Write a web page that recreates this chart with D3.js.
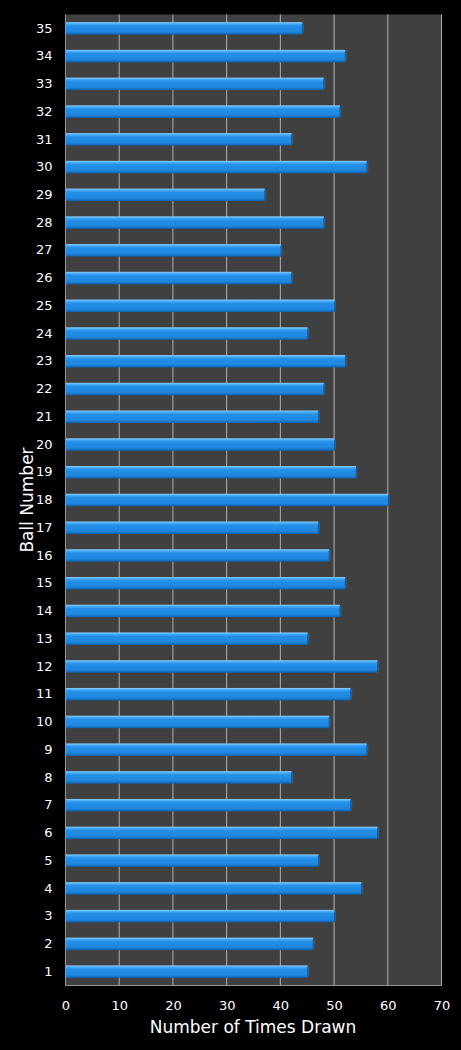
<!DOCTYPE html>
<html>
<head>
<meta charset="utf-8">
<script src="https://cdnjs.cloudflare.com/ajax/libs/d3/7.8.5/d3.min.js"></script>
<style>
  body { margin: 0; background: #000; }
  svg { display: block; }
</style>
</head>
<body>
<svg id="chart" width="461" height="1050"></svg>
<script>
// ball numbers (bottom to top) and how many times each was drawn
let balls = ["1","2","3","4","5","6","7","8","9","10","11","12","13","14","15","16","17","18",
             "19","20","21","22","23","24","25","26","27","28","29","30","31","32","33","34","35"];
let timesDrawn = [45,46,50,55,47,58,53,42,56,49,53,58,45,51,52,49,47,60,
                  54,50,47,48,52,45,50,42,40,48,37,56,42,51,48,52,44];
let xTicks = [0,10,20,30,40,50,60,70];

let chart = d3.select("#chart");
let plotLeft = 65.5, plotRight = 441.5, plotTop = 14.5, plotBottom = 985.5;

// x position scale
let x = d3.scaleLinear()
    .domain([0, 70])
    .range([plotLeft, plotRight]);

// y band scale, ball 35 at the top
let y = d3.scaleBand()
    .domain(balls.slice().reverse())
    .range([plotTop, plotBottom])
    .paddingInner(0.55)
    .paddingOuter(0.275);

// gradient for the bars
let defs = chart.append("defs");
let grad = defs.append("linearGradient")
    .attr("id", "barGrad")
    .attr("x1", 0).attr("y1", 0).attr("x2", 0).attr("y2", 1);
grad.append("stop").attr("offset", "0%").attr("stop-color", "#8ad0ff");
grad.append("stop").attr("offset", "15%").attr("stop-color", "#44a8f4");
grad.append("stop").attr("offset", "30%").attr("stop-color", "#2490e8");
grad.append("stop").attr("offset", "78%").attr("stop-color", "#1e86de");
grad.append("stop").attr("offset", "100%").attr("stop-color", "#1060aa");

// plot background
chart.append("rect")
    .attr("x", plotLeft)
    .attr("y", plotTop)
    .attr("width", plotRight - plotLeft)
    .attr("height", plotBottom - plotTop)
    .attr("fill", "#404040");

// vertical gridlines
chart.append("g")
    .selectAll("line")
    .data(xTicks.slice(1))
    .join("line")
    .attr("x1", d => x(d))
    .attr("x2", d => x(d))
    .attr("y1", plotTop)
    .attr("y2", plotBottom)
    .attr("stroke", "#b0b0b0")
    .attr("stroke-width", 1);

// axis lines
chart.append("line")
    .attr("x1", plotLeft).attr("x2", plotLeft)
    .attr("y1", plotTop).attr("y2", plotBottom)
    .attr("stroke", "#969696");
chart.append("line")
    .attr("x1", plotLeft).attr("x2", plotRight)
    .attr("y1", plotBottom).attr("y2", plotBottom)
    .attr("stroke", "#969696");

// bars
let bars = chart.append("g")
    .selectAll("g")
    .data(balls.map((b, i) => ({ ball: b, value: timesDrawn[i] })))
    .join("g");

bars.append("rect")
    .attr("x", x(0) + 0.5)
    .attr("y", d => y(d.ball))
    .attr("width", d => x(d.value) - x(0))
    .attr("height", y.bandwidth())
    .attr("fill", "url(#barGrad)");

// right end cap for the 3d look
bars.append("path")
    .attr("d", d => {
        let x0 = x(d.value), y0 = y(d.ball), h = y.bandwidth();
        return "M" + x0 + "," + (y0 + 2) + "L" + (x0 + 2) + "," + y0 +
               "L" + (x0 + 2) + "," + (y0 + h - 2) + "L" + x0 + "," + (y0 + h) + "Z";
    })
    .attr("fill", "#1162ac");

// y axis
let yAxis = d3.axisLeft(y).tickSize(0).tickPadding(13);
chart.append("g")
    .attr("transform", "translate(" + plotLeft + ",0)")
    .call(yAxis)
    .call(g => g.select(".domain").remove())
    .selectAll("text")
    .attr("fill", "#ffffff")
    .style("font-family", "DejaVu Sans")
    .style("font-size", "13px");

// x axis
let xAxis = d3.axisBottom(x).tickValues(xTicks).tickSize(0).tickPadding(15);
chart.append("g")
    .attr("transform", "translate(0," + plotBottom + ")")
    .call(xAxis)
    .call(g => g.select(".domain").remove())
    .selectAll("text")
    .attr("fill", "#ffffff")
    .style("font-family", "DejaVu Sans")
    .style("font-size", "13px");

// x axis label
chart.append("text")
    .text("Number of Times Drawn")
    .attr("x", 253)
    .attr("y", 1033)
    .attr("fill", "#ffffff")
    .style("font-family", "DejaVu Sans")
    .style("font-size", "17px")
    .style("text-anchor", "middle");

// y axis label
chart.append("text")
    .text("Ball Number")
    .attr("x", -500)
    .attr("y", 33)
    .attr("transform", "rotate(-90)")
    .attr("fill", "#ffffff")
    .style("font-family", "DejaVu Sans")
    .style("font-size", "17px")
    .style("text-anchor", "middle");
</script>
</body>
</html>
